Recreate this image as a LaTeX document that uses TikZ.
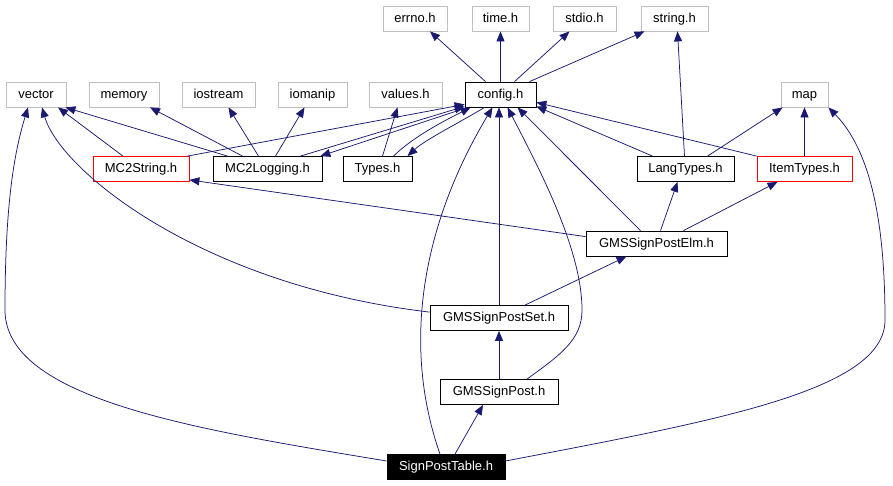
\documentclass[tikz,border=0pt]{standalone}
\usepackage{fontspec}
\setmainfont{Liberation Sans}
\usepackage{xcolor}
\usetikzlibrary{
    arrows.meta,
    calc
}
\tikzset{
  hdr/.style     = {draw=black, line width=0.8pt, minimum height=25pt, inner sep=0pt,
                    text height=9.5pt, text depth=2.5pt,
                    font=\fontsize{13}{14}\selectfont},
  syshdr/.style  = {hdr, draw=ExtGray},
  cuthdr/.style  = {hdr, draw=red},
  tophdr/.style  = {hdr, fill=black, text=white},
  dep/.style     = {-{Triangle[length=10pt,width=8pt]}, EdgeBlue, line width=0.75pt}
}
\definecolor{EdgeBlue}{RGB}{25,25,112}
\definecolor{ExtGray}{RGB}{191,191,191}

\begin{document}
\begin{tikzpicture}[x=1pt, y=-1pt]
\useasboundingbox (0,0) rectangle (893,485);
\node[syshdr, minimum width=64pt] (errno) at (415,18.5) {errno.h};
\node[syshdr, minimum width=57pt] (time) at (500.5,18.5) {time.h};
\node[syshdr, minimum width=63pt] (stdio) at (584.5,18.5) {stdio.h};
\node[syshdr, minimum width=67pt] (string) at (674.5,18.5) {string.h};
\node[syshdr, minimum width=60pt] (vector) at (36,94.5) {vector};
\node[syshdr, minimum width=70pt] (memory) at (124,94.5) {memory};
\node[syshdr, minimum width=73pt] (iostream) at (218.5,94.5) {iostream};
\node[syshdr, minimum width=69pt] (iomanip) at (312.5,94.5) {iomanip};
\node[syshdr, minimum width=73pt] (values) at (405.5,94.5) {values.h};
\node[hdr, minimum width=71pt] (config) at (500.5,94.5) {config.h};
\node[syshdr, minimum width=47pt] (map) at (804.5,94.5) {map};
\node[cuthdr, minimum width=96pt] (mcstr) at (141,169) {MC2String.h};
\node[hdr, minimum width=109pt] (mclog) at (267.5,169) {MC2Logging.h};
\node[hdr, minimum width=69pt] (types) at (377.5,169) {Types.h};
\node[hdr, minimum width=97pt] (langtypes) at (685.5,169) {LangTypes.h};
\node[cuthdr, minimum width=95pt] (itemtypes) at (804.5,169) {ItemTypes.h};
\node[hdr, minimum width=141pt] (elm) at (656.5,243.5) {GMSSignPostElm.h};
\node[hdr, minimum width=138pt] (set) at (499,318) {GMSSignPostSet.h};
\node[hdr, minimum width=118pt] (post) at (499,392) {GMSSignPost.h};
\node[tophdr, minimum width=118pt] (table) at (446,467) {SignPostTable.h};
\draw[dep] ([xshift=-15pt]config.north) -- ([xshift=15pt]errno.south);
\draw[dep] (config.north) -- (time.south);
\draw[dep] ([xshift=14pt]config.north) -- ([xshift=-15pt]stdio.south);
\draw[dep] ([xshift=29pt]config.north) -- ([xshift=-30pt]string.south);
\draw[dep] ([xshift=-18pt]mcstr.north) -- ([xshift=22pt]vector.south);
\draw[dep] ([xshift=-2pt]mcstr.north east) -- ([yshift=3pt]config.south west);
\draw[dep] ([xshift=-40pt]mclog.north) -- ([xshift=-1pt]vector.south east);
\draw[dep] ([xshift=-25pt]mclog.north) -- ([xshift=26pt]memory.south);
\draw[dep] ([xshift=-9pt]mclog.north) -- ([xshift=10pt]iostream.south);
\draw[dep] ([xshift=8pt]mclog.north) -- ([xshift=-8pt]iomanip.south);
\draw[dep] ([xshift=-22pt]mclog.north east) -- ([yshift=1pt]config.south west);
\draw[dep] ([xshift=3pt]config.south west) -- ([xshift=-2pt]mclog.north east);
\draw[dep] ([xshift=5pt]types.north) -- ([xshift=-8pt]values.south);
\draw[dep] ([xshift=16pt]types.north) .. controls (415,135) and (450,118) .. ([xshift=6pt]config.south west);
\draw[dep] ([xshift=20pt]config.south west) .. controls (455,125) and (425,140) .. ([xshift=30pt]types.north);
\draw[dep] ([xshift=-33pt]langtypes.north) -- ([yshift=1pt]config.south east);
\draw[dep] (itemtypes.north west) -- ([yshift=5pt]config.south east);
\draw[dep] ([xshift=-1pt]langtypes.north) -- ([xshift=3pt]string.south);
\draw[dep] ([xshift=22pt]langtypes.north) -- ([xshift=2pt]map.south west);
\draw[dep] (itemtypes.north) -- (map.south);
\draw[dep] ([xshift=4pt]elm.north) -- ([xshift=-8pt]langtypes.south);
\draw[dep] ([xshift=27pt]elm.north) -- ([xshift=-27pt]itemtypes.south);
\draw[dep] ([xshift=-16pt]elm.north) -- ([xshift=17pt]config.south);
\draw[dep] ([yshift=-6pt]elm.north west) -- ([yshift=2pt]mcstr.south east);
\draw[dep] ([xshift=26pt]set.north) -- ([xshift=-30pt]elm.south);
\draw[dep] (set.north) -- (set.north |- config.south);
\draw[dep] ([yshift=-7pt]set.north west) .. controls (200,285) and (60,170) .. ([xshift=6pt]vector.south);
\draw[dep] (post.north) -- (set.south);
\draw[dep] ([xshift=28pt]post.north) .. controls (560,355) and (582,340) .. (582,310)
           .. controls (582,250) and (540,170) .. ([xshift=7pt]config.south);
\draw[dep] ([xshift=9pt]table.north) -- ([xshift=-16pt]post.south);
\draw[dep] ([xshift=-6pt]table.north) .. controls (400,340) and (425,220) .. ([xshift=-8pt]config.south);
\draw[dep] ([yshift=6pt]table.west) .. controls (200,430) and (5,400) .. (5,310)
           .. controls (5,200) and (15,150) .. ([xshift=-8pt]vector.south);
\draw[dep] ([yshift=6pt]table.east) .. controls (720,420) and (885,390) .. (885,320)
           .. controls (885,220) and (870,150) .. (map.south east);
\end{tikzpicture}
\end{document}
